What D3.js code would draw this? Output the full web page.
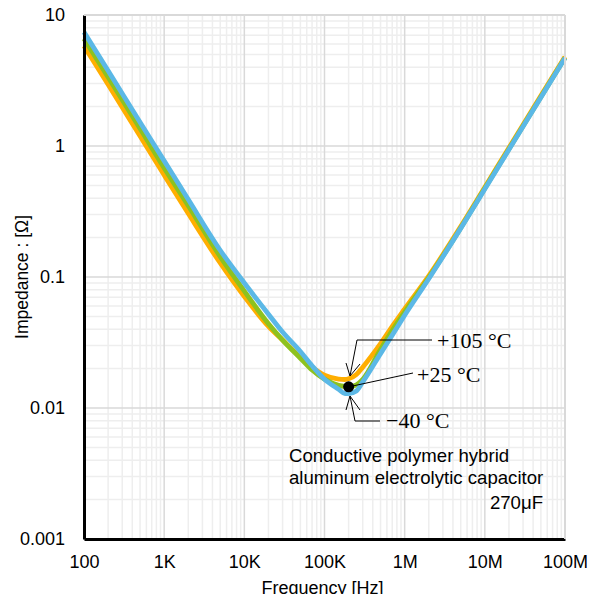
<!DOCTYPE html>
<html>
<head>
<meta charset="utf-8">
<script src="https://cdn.jsdelivr.net/npm/d3@7"></script>
<style>
  body { margin: 0; background: #fff; }
  svg { display: block; }
</style>
</head>
<body>
<div id="chart"></div>
<script>
// frequencies (Hz)
let freqs = [100, 200, 500, 1e3, 2e3, 5e3, 1e4, 2e4, 3e4, 5e4, 7e4, 1e5, 1.5e5, 1.8e5, 2e5, 2.5e5, 3e5, 5e5, 7e5, 1e6, 2e6, 5e6, 1e7, 2e7, 5e7, 1e8];

// impedance (ohm) per temperature
let z105 = [5.8, 2.95, 1.19, 0.60, 0.305, 0.128, 0.071, 0.042, 0.033, 0.0245, 0.0205, 0.0178, 0.0166, 0.0165, 0.0167, 0.0180, 0.0205, 0.031, 0.042, 0.057, 0.102, 0.243, 0.485, 0.97, 2.42, 4.8];
let z25  = [6.6, 3.35, 1.36, 0.68, 0.35, 0.143, 0.078, 0.044, 0.033, 0.024, 0.0195, 0.0166, 0.0149, 0.0146, 0.0145, 0.0150, 0.0165, 0.028, 0.039, 0.054, 0.099, 0.237, 0.475, 0.95, 2.37, 4.72];
let zm40 = [7.4, 3.75, 1.52, 0.77, 0.39, 0.160, 0.090, 0.052, 0.038, 0.027, 0.021, 0.0166, 0.0139, 0.0129, 0.0129, 0.0135, 0.0158, 0.026, 0.036, 0.051, 0.097, 0.235, 0.47, 0.94, 2.35, 4.7];

let seriesNames = ["+105 °C", "+25 °C", "−40 °C"];
let seriesColors = ["#FFAE00", "#8DC21F", "#5BB8E6"];

let xTickVals = [1e2, 1e3, 1e4, 1e5, 1e6, 1e7, 1e8];
let xTickLabels = ["100", "1K", "10K", "100K", "1M", "10M", "100M"];
let yTickVals = [0.001, 0.01, 0.1, 1, 10];
let yTickLabels = ["0.001", "0.01", "0.1", "1", "10"];

let markerFreq = 2e5;
let markerZ = 0.0145;

let w = 589, h = 594;
let padLeft = 84, padRight = 565, padTop = 15, padBottom = 539;
let sans = "Liberation Sans, Arial, sans-serif";

let viz = d3.select("#chart").append("svg")
    .attr("width", w)
    .attr("height", h)
;

let xScale = d3.scaleLog().domain([1e2, 1e8]).range([padLeft, padRight]);
let yScale = d3.scaleLog().domain([0.001, 10]).range([padBottom, padTop]);

// minor + major grid
let minorX = [];
for (let d = 1e2; d < 1e8; d *= 10) {
  for (let k = 2; k <= 9; k++) minorX.push(d * k);
}
let minorY = [];
for (let d = 0.001; d < 9; d *= 10) {
  for (let k = 2; k <= 9; k++) minorY.push(d * k);
}

let grid = viz.append("g").attr("class", "grid");
grid.selectAll(".minx").data(minorX).enter().append("line")
    .attr("x1", d => xScale(d)).attr("x2", d => xScale(d))
    .attr("y1", padTop).attr("y2", padBottom)
    .attr("stroke", "#eeeeee").attr("stroke-width", 1.5);
grid.selectAll(".miny").data(minorY).enter().append("line")
    .attr("y1", d => yScale(d)).attr("y2", d => yScale(d))
    .attr("x1", padLeft).attr("x2", padRight)
    .attr("stroke", "#eeeeee").attr("stroke-width", 1.5);
grid.selectAll(".majx").data(xTickVals).enter().append("line")
    .attr("x1", d => xScale(d)).attr("x2", d => xScale(d))
    .attr("y1", padTop).attr("y2", padBottom)
    .attr("stroke", "#d9d9d9").attr("stroke-width", 1.5);
grid.selectAll(".majy").data(yTickVals).enter().append("line")
    .attr("y1", d => yScale(d)).attr("y2", d => yScale(d))
    .attr("x1", padLeft).attr("x2", padRight)
    .attr("stroke", "#d9d9d9").attr("stroke-width", 1.5);

// curves
let allSeries = [z105, z25, zm40];
let lineMaker = d3.line()
    .x((d, i) => xScale(freqs[i]))
    .y(d => yScale(d))
    .curve(d3.curveMonotoneX)
;
viz.append("g").selectAll("path").data(allSeries).enter().append("path")
    .attr("d", lineMaker)
    .attr("fill", "none")
    .attr("stroke", (d, i) => seriesColors[i])
    .attr("stroke-width", 4.8)
    .attr("stroke-linejoin", "round")
;

// axes
let xAxis = d3.axisBottom(xScale).tickValues(xTickVals)
    .tickFormat((d, i) => xTickLabels[i]).tickSize(0).tickPadding(16);
let xAxisGroup = viz.append("g")
    .attr("transform", "translate(0," + padBottom + ")")
    .call(xAxis);
xAxisGroup.select(".domain").attr("stroke", "#000").attr("stroke-width", 3);
xAxisGroup.selectAll("text").attr("font-family", sans)
    .attr("font-size", 18).attr("fill", "#000");

let yAxis = d3.axisLeft(yScale).tickValues(yTickVals)
    .tickFormat((d, i) => yTickLabels[i]).tickSize(0).tickPadding(19);
let yAxisGroup = viz.append("g")
    .attr("transform", "translate(" + padLeft + ",0)")
    .call(yAxis);
yAxisGroup.select(".domain").attr("stroke", "#000").attr("stroke-width", 3);
yAxisGroup.selectAll("text").attr("font-family", sans)
    .attr("font-size", 18).attr("fill", "#000");

// top / right border
viz.append("line").attr("x1", padLeft).attr("x2", padRight).attr("y1", padTop).attr("y2", padTop)
    .attr("stroke", "#d9d9d9").attr("stroke-width", 2);
viz.append("line").attr("x1", padRight).attr("x2", padRight).attr("y1", padTop).attr("y2", padBottom)
    .attr("stroke", "#d9d9d9").attr("stroke-width", 2);

// axis titles
viz.append("text")
    .attr("x", (padLeft + padRight) / 2 - 2).attr("y", 594)
    .attr("text-anchor", "middle")
    .attr("font-family", sans).attr("font-size", 18)
    .text("Frequency [Hz]");
viz.append("text")
    .attr("transform", "translate(28," + ((padTop + padBottom) / 2) + ") rotate(-90)")
    .attr("text-anchor", "middle")
    .attr("font-family", sans).attr("font-size", 17.5)
    .text("Impedance : [Ω]");

// annotations
let ann = viz.append("g").attr("stroke", "#000").attr("stroke-width", 1).attr("fill", "none");
let mx = xScale(markerFreq), my = yScale(markerZ);
// +105
ann.append("polyline").attr("points", [[432, 340], [357, 340], [350, 376]].join(" "));
ann.append("polyline").attr("points", [[346, 363], [350, 376], [360, 364]].join(" "));
// +25
ann.append("line").attr("x1", mx).attr("y1", my).attr("x2", 413).attr("y2", 373);
// -40
ann.append("polyline").attr("points", [[380, 421], [355, 421], [350, 396]].join(" "));
ann.append("polyline").attr("points", [[346, 410], [350, 396], [360, 410]].join(" "));

viz.append("circle").attr("cx", mx).attr("cy", my).attr("r", 5.5).attr("fill", "#000");

let labelPos = [[437, 348], [417, 382], [386, 428]];
viz.append("g").selectAll("text").data(seriesNames).enter().append("text")
    .attr("x", (d, i) => labelPos[i][0])
    .attr("y", (d, i) => labelPos[i][1])
    .attr("font-family", "Liberation Serif, DejaVu Serif, serif")
    .attr("font-size", 22)
    .text(d => d);

viz.append("text").attr("x", 289).attr("y", 462)
    .attr("font-family", sans).attr("font-size", 18.6)
    .text("Conductive polymer hybrid");
viz.append("text").attr("x", 289).attr("y", 484)
    .attr("font-family", sans).attr("font-size", 18.6)
    .text("aluminum electrolytic capacitor");
viz.append("text").attr("x", 543).attr("y", 509).attr("text-anchor", "end")
    .attr("font-family", sans).attr("font-size", 18.6)
    .text("270μF");
</script>
</body>
</html>
